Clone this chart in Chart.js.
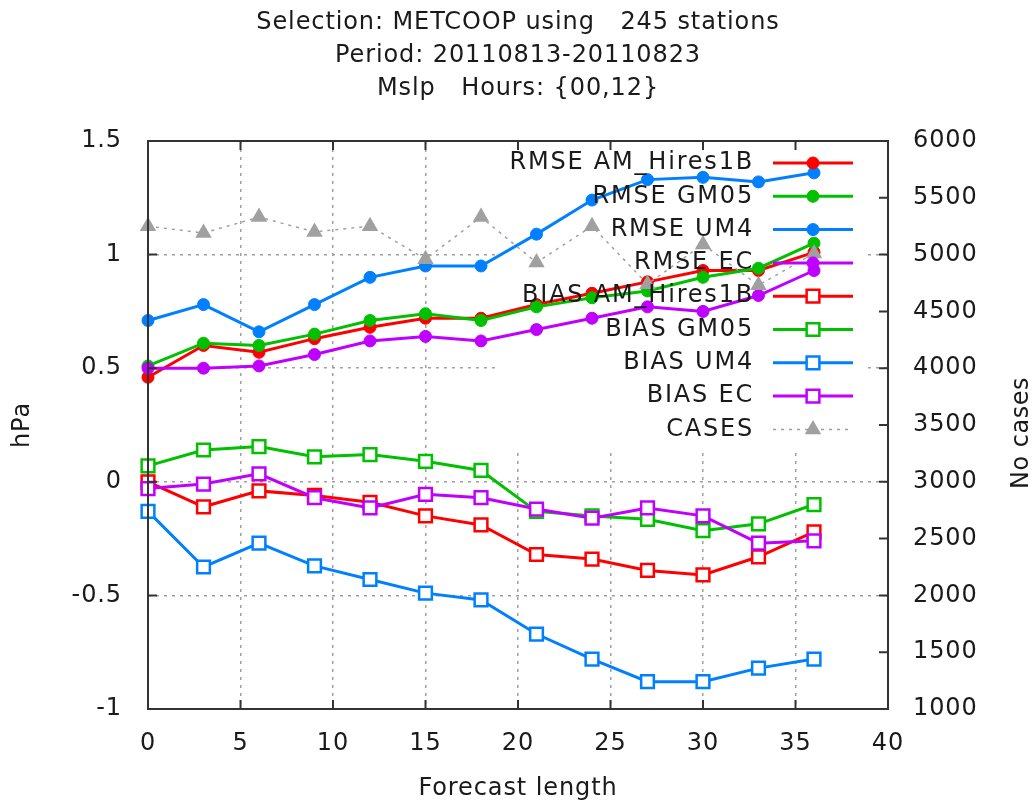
<!DOCTYPE html>
<html>
<head>
<meta charset="utf-8">
<title>Mslp verification</title>
<script src="https://cdn.jsdelivr.net/npm/chart.js@4.4.0/dist/chart.umd.min.js"></script>
<style>
  html, body { margin: 0; padding: 0; background: #fff; }
  #wrap { width: 1036px; height: 807px; }
</style>
</head>
<body>
<div id="wrap"><canvas id="myChart"></canvas></div>
<script>
'use strict';

/** Data */
let titleLines = [
  'Selection: METCOOP using   245 stations',
  'Period: 20110813-20110823',
  'Mslp   Hours: {00,12}'
];
let leadTimes = [0, 3, 6, 9, 12, 15, 18, 21, 24, 27, 30, 33, 36];

let rmseAm = [0.46, 0.60, 0.57, 0.63, 0.68, 0.72, 0.72, 0.78, 0.83, 0.88, 0.93, 0.93, 1.01];
let rmseGm05 = [0.51, 0.61, 0.60, 0.65, 0.71, 0.74, 0.71, 0.77, 0.81, 0.84, 0.90, 0.94, 1.05];
let rmseUm4 = [0.71, 0.78, 0.66, 0.78, 0.90, 0.95, 0.95, 1.09, 1.24, 1.33, 1.34, 1.32, 1.36];
let rmseEc = [0.50, 0.50, 0.51, 0.56, 0.62, 0.64, 0.62, 0.67, 0.72, 0.77, 0.75, 0.82, 0.93];

let biasAm = [0.00, -0.11, -0.04, -0.06, -0.09, -0.15, -0.19, -0.32, -0.34, -0.39, -0.41, -0.33, -0.22];
let biasGm05 = [0.07, 0.14, 0.155, 0.11, 0.12, 0.09, 0.05, -0.13, -0.15, -0.165, -0.215, -0.185, -0.10];
let biasUm4 = [-0.13, -0.375, -0.27, -0.37, -0.43, -0.49, -0.52, -0.67, -0.78, -0.88, -0.88, -0.82, -0.78];
let biasEc = [-0.03, -0.01, 0.035, -0.07, -0.115, -0.055, -0.07, -0.12, -0.16, -0.115, -0.15, -0.27, -0.26];

let cases = [5250, 5190, 5330, 5200, 5250, 4960, 5330, 4930, 5250, 4740, 5090, 4730, 5010];

/** Style */
let fontFamily = "'DejaVu Sans', 'Liberation Sans', sans-serif";
let textColor = '#1a1a1a';
let gridColor = '#a0a0a0';
let red = '#ff0000';
let green = '#00c000';
let blue = '#0080ff';
let purple = '#c000ff';
let grey = '#a0a0a0';

// Canvas Element
let ctx = document.getElementById('myChart');

/** Helpers */
function toPoints(values) {
  return leadTimes.map(function (t, i) {
    return { x: t, y: values[i] };
  });
}

function rmseSet(label, values, color) {
  return {
    label: label,
    data: toPoints(values),
    borderColor: color,
    borderWidth: 3,
    pointStyle: 'circle',
    pointRadius: 6,
    pointBackgroundColor: color,
    pointBorderColor: color,
    pointBorderWidth: 1,
    yAxisID: 'y'
  };
}

function biasSet(label, values, color) {
  return {
    label: label,
    data: toPoints(values),
    borderColor: color,
    borderWidth: 3,
    pointStyle: 'rect',
    pointRadius: 9,
    pointBackgroundColor: '#ffffff',
    pointBorderColor: color,
    pointBorderWidth: 2.5,
    yAxisID: 'y'
  };
}

// grid only on the inner ticks, like gnuplot
function innerGrid(lo, hi) {
  return function (c) {
    if (!c.tick) return gridColor;
    let v = c.tick.value;
    return (Math.abs(v - lo) < 1e-9 || Math.abs(v - hi) < 1e-9) ? 'rgba(0,0,0,0)' : gridColor;
  };
}

// Key box sits over the grid but under the data
let keyBox = { left: 495, top: 143, right: 868, bottom: 448 };
let keyTop = 163;
let keyStep = 33.3;
let keyTextRight = 754;
let keyLineStart = 773;
let keyLineEnd = 853;
let keyMarkX = 813;

function drawKey(chart) {
  let c = chart.ctx;
  c.save();
  chart.data.datasets.forEach(function (ds, i) {
    let y = keyTop + i * keyStep;
    c.font = '24px ' + fontFamily;
    c.letterSpacing = '1.8px';
    c.textAlign = 'right';
    c.textBaseline = 'middle';
    c.fillStyle = textColor;
    c.fillText(ds.label, keyTextRight, y);
    c.letterSpacing = '0px';

    c.strokeStyle = ds.borderColor;
    c.lineWidth = ds.borderWidth;
    c.setLineDash(ds.borderDash || []);
    c.beginPath();
    c.moveTo(keyLineStart, y);
    c.lineTo(keyLineEnd, y);
    c.stroke();
    c.setLineDash([]);

    c.fillStyle = ds.pointBackgroundColor;
    c.strokeStyle = ds.pointBorderColor;
    c.lineWidth = ds.pointBorderWidth;
    Chart.helpers.drawPoint(c, {
      pointStyle: ds.pointStyle,
      radius: ds.pointRadius,
      borderWidth: ds.pointBorderWidth,
      rotation: 0
    }, keyMarkX, y);
  });
  c.restore();
}

function drawFrame(chart) {
  let c = chart.ctx;
  let area = chart.chartArea;
  let xs = chart.scales.x;
  let ys = chart.scales.y;
  let y2 = chart.scales.y1;
  let tick = 9;

  c.save();
  c.letterSpacing = '0px';
  c.strokeStyle = '#333';
  c.lineWidth = 2;
  c.strokeRect(area.left, area.top, area.right - area.left, area.bottom - area.top);

  c.beginPath();
  xs.ticks.forEach(function (t) {
    let px = xs.getPixelForValue(t.value);
    c.moveTo(px, area.bottom);
    c.lineTo(px, area.bottom - tick);
    c.moveTo(px, area.top);
    c.lineTo(px, area.top + tick);
  });
  ys.ticks.forEach(function (t) {
    let py = ys.getPixelForValue(t.value);
    c.moveTo(area.left, py);
    c.lineTo(area.left + tick, py);
  });
  y2.ticks.forEach(function (t) {
    let py = y2.getPixelForValue(t.value);
    c.moveTo(area.right, py);
    c.lineTo(area.right - tick, py);
  });
  c.stroke();

  // right axis title reads bottom to top
  c.translate(1022, 433);
  c.rotate(-Math.PI / 2);
  c.font = '24px ' + fontFamily;
  c.letterSpacing = '0.5px';
  c.fillStyle = textColor;
  c.textAlign = 'center';
  c.textBaseline = 'middle';
  c.fillText('No cases', 0, 0);
  c.restore();
}

let gnuplotLook = {
  id: 'gnuplotLook',
  beforeDraw(chart) {
    // gnuplot's text is spread a little wider
    chart.ctx.letterSpacing = '0.9px';
  },
  beforeDatasetsDraw(chart) {
    let c = chart.ctx;
    c.save();
    c.fillStyle = '#ffffff';
    c.fillRect(keyBox.left, keyBox.top, keyBox.right - keyBox.left, keyBox.bottom - keyBox.top);
    c.restore();
  },
  afterDatasetsDraw(chart) {
    drawKey(chart);
  },
  afterDraw(chart) {
    drawFrame(chart);
    chart.ctx.letterSpacing = '0px';
  }
};

/** Chart */
let datasets = [
  rmseSet('RMSE AM_Hires1B', rmseAm, red),
  rmseSet('RMSE GM05', rmseGm05, green),
  rmseSet('RMSE UM4', rmseUm4, blue),
  rmseSet('RMSE EC', rmseEc, purple),
  biasSet('BIAS AM_Hires1B', biasAm, red),
  biasSet('BIAS GM05', biasGm05, green),
  biasSet('BIAS UM4', biasUm4, blue),
  biasSet('BIAS EC', biasEc, purple),
  {
    label: 'CASES',
    data: toPoints(cases),
    borderColor: grey,
    borderWidth: 1.5,
    borderDash: [3, 5],
    pointStyle: 'triangle',
    pointRadius: 9.5,
    pointBackgroundColor: grey,
    pointBorderColor: grey,
    pointBorderWidth: 0,
    yAxisID: 'y1'
  }
];

// later series drawn on top, as in gnuplot
datasets.forEach(function (ds, i) {
  ds.order = datasets.length - i;
  ds.tension = 0;
  ds.fill = false;
  ds.clip = false;
});

let tickFont = { family: fontFamily, size: 24 };

let chartObj = {
  type: 'line',
  data: { datasets: datasets },
  options: {
    responsive: true,
    maintainAspectRatio: false,
    animation: false,
    layout: { padding: 0 },
    plugins: {
      legend: { display: false },
      tooltip: { enabled: false },
      title: {
        display: true,
        text: titleLines,
        color: textColor,
        font: { family: fontFamily, size: 24, weight: 'normal', lineHeight: 1.375 },
        padding: { top: 6, bottom: 36 }
      }
    },
    scales: {
      x: {
        type: 'linear',
        min: 0,
        max: 40,
        ticks: { stepSize: 5, color: textColor, font: tickFont, padding: 20, maxRotation: 0 },
        grid: { color: innerGrid(0, 40), lineWidth: 1.5, drawTicks: false },
        border: { display: false, dash: [3, 5] },
        title: {
          display: true,
          text: 'Forecast length',
          color: textColor,
          font: tickFont,
          padding: { top: 0, bottom: 4 }
        },
        afterFit(scale) { scale.height = 98; }
      },
      y: {
        type: 'linear',
        position: 'left',
        min: -1,
        max: 1.5,
        ticks: {
          stepSize: 0.5,
          color: textColor,
          font: tickFont,
          padding: 26,
          callback: function (v) { return String(Math.round(v * 10) / 10); }
        },
        grid: { color: innerGrid(-1, 1.5), lineWidth: 1.5, drawTicks: false },
        border: { display: false, dash: [3, 5] },
        title: {
          display: true,
          text: 'hPa',
          color: textColor,
          font: tickFont,
          padding: { top: 8, bottom: 0 }
        },
        afterFit(scale) { scale.width = 148; }
      },
      y1: {
        type: 'linear',
        position: 'right',
        min: 1000,
        max: 6000,
        ticks: {
          stepSize: 500,
          color: textColor,
          font: tickFont,
          padding: 25,
          callback: function (v) { return String(v); }
        },
        grid: { display: false, drawTicks: false },
        border: { display: false },
        afterFit(scale) { scale.width = 148; }
      }
    }
  },
  plugins: [gnuplotLook]
};

new Chart(ctx, chartObj);
</script>
</body>
</html>
